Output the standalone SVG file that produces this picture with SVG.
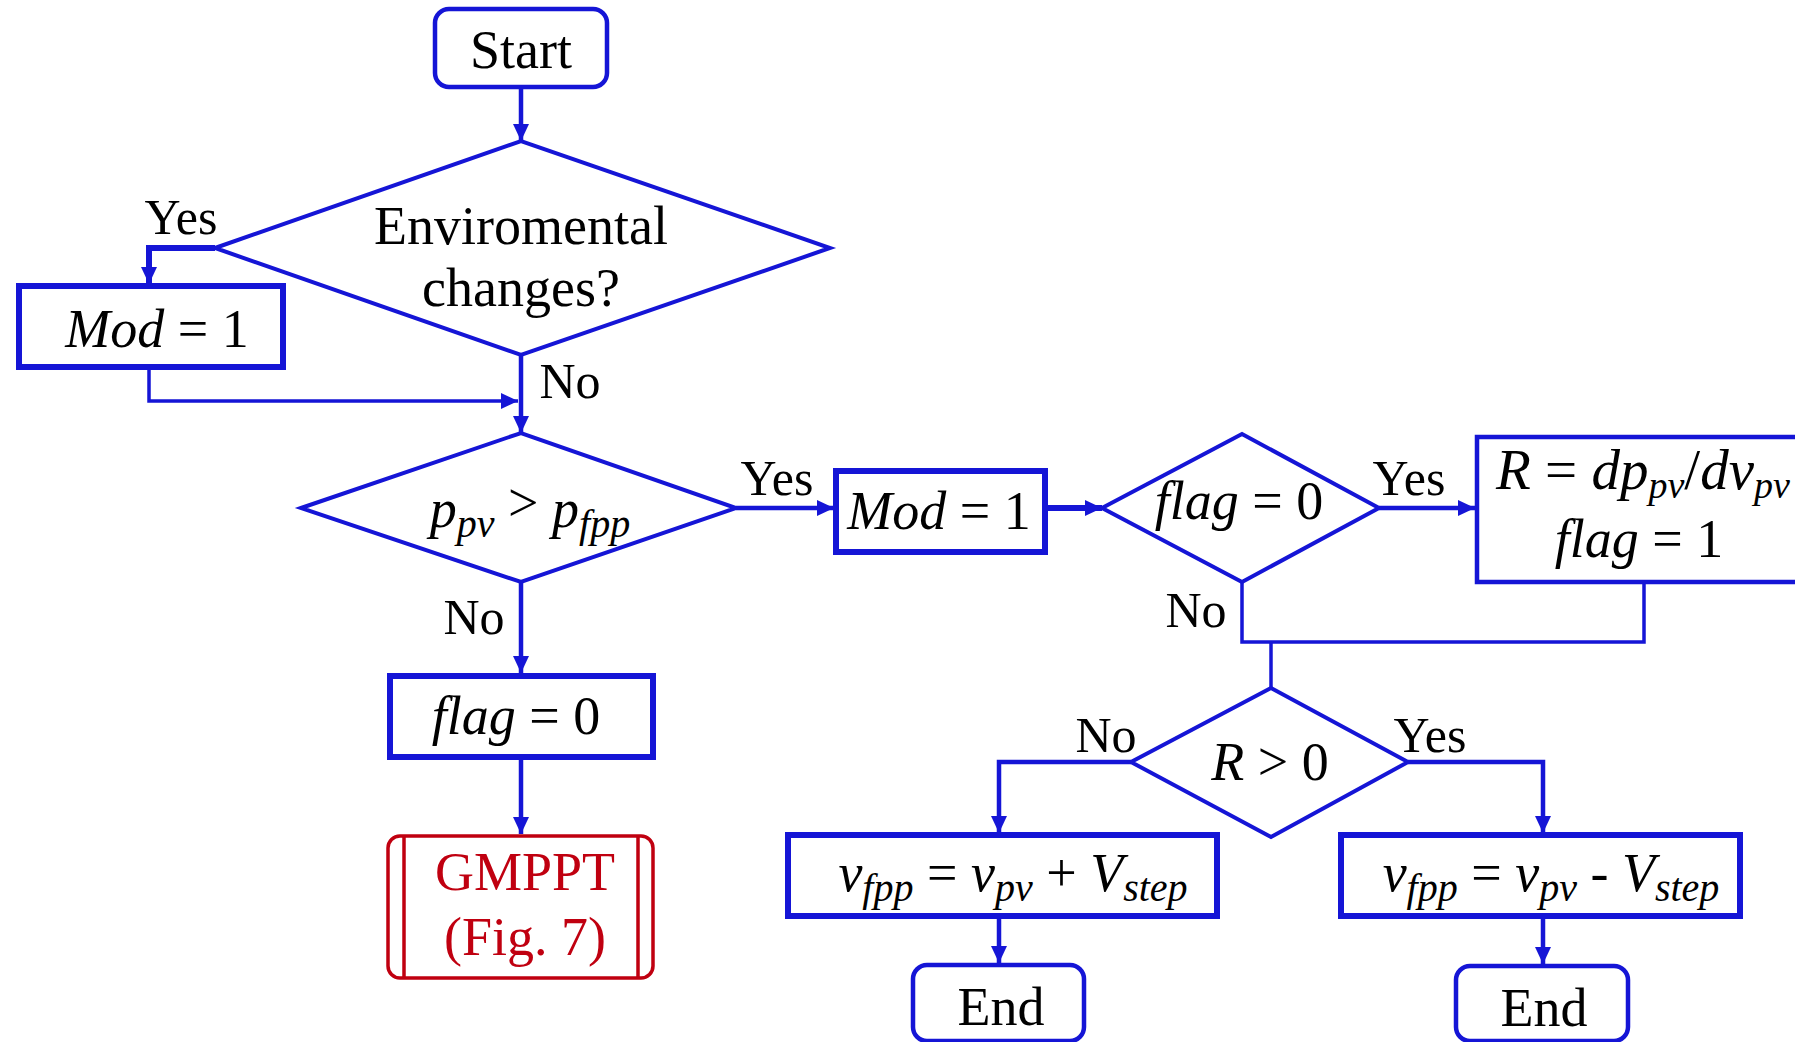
<svg xmlns="http://www.w3.org/2000/svg" width="1795" height="1042" viewBox="0 0 1795 1042">
<style>
.b{fill:#fff;stroke:#1515d6;stroke-width:4.5}
.bt{fill:#fff;stroke:#1515d6;stroke-width:6}
.d{fill:#fff;stroke:#1515d6;stroke-width:4}
.c{fill:none;stroke:#1515d6;stroke-width:4.5}
.ct{fill:none;stroke:#1515d6;stroke-width:3.5}
text{font-family:"Liberation Serif","Times New Roman",serif;font-size:54px;fill:#000}
.lb{font-size:50px}
.i{font-style:italic}
.s{font-size:40px;font-style:italic}
.red{fill:#c00010}
</style>
<defs>
<marker id="ah" markerUnits="userSpaceOnUse" markerWidth="18" markerHeight="16" refX="17" refY="8" orient="auto">
<path d="M0,0 L17,8 L0,16 z" fill="#1515d6"/>
</marker>
</defs>

<g id="connectors">
<path class="c" d="M521,87 V141" marker-end="url(#ah)"/>
<path class="bt" style="fill:none" d="M215,248 H149 V284" marker-end="url(#ah)"/>
<path class="ct" d="M149,367 V401 H518" marker-end="url(#ah)"/>
<path class="c" d="M521,355 V433" marker-end="url(#ah)"/>
<path class="c" d="M736,508 H834" marker-end="url(#ah)"/>
<path class="bt" style="fill:none" d="M1045,508 H1102" marker-end="url(#ah)"/>
<path class="c" d="M1379,508 H1475" marker-end="url(#ah)"/>
<path class="ct" d="M1242,582 V642 H1644 V582"/>
<path class="ct" d="M1271,642 V688"/>
<path class="c" d="M1131,762 H999 V833" marker-end="url(#ah)"/>
<path class="c" d="M1408,762 H1543 V833" marker-end="url(#ah)"/>
<path class="c" d="M999,916 V963" marker-end="url(#ah)"/>
<path class="c" d="M1543,916 V964" marker-end="url(#ah)"/>
<path class="c" d="M521,582 V673" marker-end="url(#ah)"/>
<path class="c" d="M521,757 V834" marker-end="url(#ah)"/>
</g>

<g id="labels">
<text class="lb" x="181" y="234" text-anchor="middle">Yes</text>
<text class="lb" x="570" y="398" text-anchor="middle">No</text>
<text class="lb" x="777" y="495" text-anchor="middle">Yes</text>
<text class="lb" x="474" y="634" text-anchor="middle">No</text>
<text class="lb" x="1409" y="495" text-anchor="middle">Yes</text>
<text class="lb" x="1196" y="627" text-anchor="middle">No</text>
<text class="lb" x="1106" y="752" text-anchor="middle">No</text>
<text class="lb" x="1430" y="752" text-anchor="middle">Yes</text>
</g>

<g id="start">
<rect class="b" x="435" y="9" width="172" height="78" rx="14"/>
<text x="521" y="68" text-anchor="middle">Start</text>
</g>

<g id="env">
<polygon class="d" points="215,248 521,141 830,248 521,355"/>
<text x="521" y="244" text-anchor="middle">Enviromental</text>
<text x="521" y="306" text-anchor="middle">changes?</text>
</g>

<g id="mod1">
<rect class="bt" x="19" y="286" width="264" height="81"/>
<text x="157" y="347" text-anchor="middle"><tspan class="i">Mod</tspan> = 1</text>
</g>

<g id="ppv">
<polygon class="d" points="301,508 521,433 736,508 521,582"/>
<text x="530" y="527" text-anchor="middle"><tspan class="i">p</tspan><tspan class="s" dy="10">pv</tspan><tspan dy="-16"> &gt; </tspan><tspan class="i" dy="6">p</tspan><tspan class="s" dy="10">fpp</tspan></text>
</g>

<g id="mod2">
<rect class="bt" x="836" y="471" width="209" height="81"/>
<text x="939" y="529" text-anchor="middle"><tspan class="i">Mod</tspan> = 1</text>
</g>

<g id="flag0d">
<polygon class="d" points="1102,508 1242,434 1379,508 1242,582"/>
<text x="1239" y="519" text-anchor="middle"><tspan class="i">flag</tspan> = 0</text>
</g>

<g id="rbox">
<rect class="b" x="1477" y="437" width="340" height="145"/>
<text x="1496" y="489" style="font-size:57px"><tspan class="i">R</tspan> = <tspan class="i">dp</tspan><tspan class="i" style="font-size:38px" dy="9">pv</tspan><tspan dy="-9">/</tspan><tspan class="i">dv</tspan><tspan class="i" style="font-size:38px" dy="9">pv</tspan></text>
<text x="1639" y="557" text-anchor="middle"><tspan class="i">flag</tspan> = 1</text>
</g>

<g id="flag0b">
<rect class="bt" x="390" y="676" width="263" height="81"/>
<text x="516" y="734" text-anchor="middle"><tspan class="i">flag</tspan> = 0</text>
</g>

<g id="gmppt">
<rect x="388" y="836" width="265" height="142" rx="12" fill="#fff" stroke="#c00010" stroke-width="3.5"/>
<path d="M404,836 V978 M638,836 V978" stroke="#c00010" stroke-width="3.5"/>
<text class="red" x="525" y="890" text-anchor="middle">GMPPT</text>
<text class="red" x="525" y="955" text-anchor="middle">(Fig. 7)</text>
</g>

<g id="rgt0">
<polygon class="d" points="1131,762 1271,688 1408,762 1271,837"/>
<text x="1270" y="780" text-anchor="middle"><tspan class="i">R</tspan> &gt; 0</text>
</g>

<g id="vplus">
<rect class="bt" x="788" y="835" width="429" height="81"/>
<text x="1013" y="891" text-anchor="middle"><tspan class="i">v</tspan><tspan class="s" dy="10">fpp</tspan><tspan dy="-10"> = </tspan><tspan class="i">v</tspan><tspan class="s" dy="10">pv</tspan><tspan dy="-10"> + </tspan><tspan class="i">V</tspan><tspan class="s" dy="10">step</tspan></text>
</g>

<g id="vminus">
<rect class="bt" x="1341" y="835" width="399" height="81"/>
<text x="1551" y="891" text-anchor="middle"><tspan class="i">v</tspan><tspan class="s" dy="10">fpp</tspan><tspan dy="-10"> = </tspan><tspan class="i">v</tspan><tspan class="s" dy="10">pv</tspan><tspan dy="-10"> - </tspan><tspan class="i">V</tspan><tspan class="s" dy="10">step</tspan></text>
</g>

<g id="end1">
<rect class="b" x="913" y="965" width="171" height="76" rx="14"/>
<text x="1001" y="1025" text-anchor="middle">End</text>
</g>

<g id="end2">
<rect class="b" x="1456" y="966" width="172" height="75" rx="14"/>
<text x="1544" y="1026" text-anchor="middle">End</text>
</g>
</svg>
